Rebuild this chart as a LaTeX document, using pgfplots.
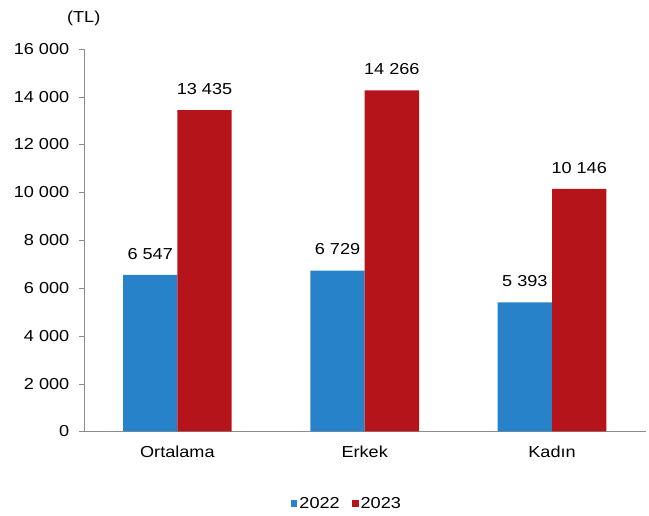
\documentclass[border=0pt]{standalone}
\usepackage{pgfplots}
\pgfplotsset{compat=1.18}
\usepackage{fontspec}
\setmainfont{Liberation Sans}[FakeStretch=1.14]
\definecolor{bluebar}{RGB}{40,130,202}
\definecolor{redbar}{RGB}{180,20,26}
\definecolor{axisgray}{RGB}{140,140,140}

\begin{document}
\begin{tikzpicture}
\begin{axis}[
	scale only axis,
	width=564bp, height=384bp,
	ybar,
	xmin=0, xmax=3,
	ymin=0, ymax=16000,
	ytick={0,2000,...,16000},
	scaled y ticks=false,
	xtick={0.5,1.5,2.5},
	xticklabels={Ortalama,Erkek,Kadın},
	major x tick style={draw=none},
	extra x ticks={0,1,2,3},
	extra x tick labels={},
	extra x tick style={major tick length=5bp, tick style={draw=axisgray}},
	axis x line*=bottom,
	axis y line*=left,
	axis line style={draw=axisgray, -},
	tick style={draw=axisgray},
	major tick length=5bp,
	tick align=outside,
	font=\fontsize{16}{18}\selectfont,
	/pgf/number format/assume math mode=true,
	/pgf/number format/1000 sep={\ },
	/pgf/number format/fixed,
	yticklabel style={xshift=-6bp},
	xticklabel style={yshift=-6bp},
	bar width=0.29,
	nodes near coords,
	every node near coord/.append style={yshift=12bp, black, font=\fontsize{16}{18}\selectfont},
	legend style={at={(0.468,-0.1875)}, anchor=center, draw=none, legend columns=2,
		/tikz/every even column/.append style={column sep=10bp}, font=\fontsize{16}{18}\selectfont},
	legend image code/.code={\fill[#1] (0bp,-3.5bp) rectangle (7bp,3.5bp);},
	clip=false,
]
\addplot+[bar shift=-0.145, fill=bluebar, draw=none] coordinates {(0.5,6547) (1.5,6729) (2.5,5393)};
\addplot+[bar shift=0.145, fill=redbar, draw=none] coordinates {(0.5,13435) (1.5,14266) (2.5,10146)};
\legend{2022,2023}
\node at (rel axis cs:0,1) [yshift=31bp] {(TL)};
\path (rel axis cs:0,0) ++(-84bp,-84bp) (rel axis cs:1,1) ++(1bp,49bp);
\end{axis}
\end{tikzpicture}
\end{document}
